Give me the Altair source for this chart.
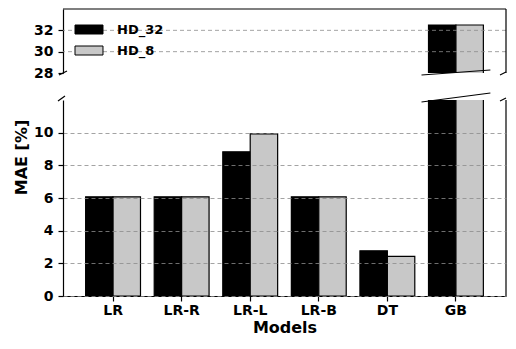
import altair as alt
import pandas as pd

models = ["LR", "LR-R", "LR-L", "LR-B", "DT", "GB"]
hd32 = [6.07, 6.07, 8.83, 6.07, 2.77, 32.5]
hd8 = [6.07, 6.07, 9.92, 6.07, 2.42, 32.5]
series = ["HD_32", "HD_8"]
colors = ["black", "#c8c8c8"]
top_ticks = [28, 30, 32]
bottom_ticks = [0, 2, 4, 6, 8, 10]
top_grid = [30, 32]

rows = []
for m, a, b in zip(models, hd32, hd8):
    rows.append({"model": m, "series": "HD_32", "mae": a})
    rows.append({"model": m, "series": "HD_8", "mae": b})
df = pd.DataFrame(rows)

W = 443
H_TOP = 64
H_BOT = 196
FONT = "DejaVu Sans"
GRID = dict(strokeDash=[4, 3], color="#8c8c8c", strokeWidth=0.8)
P_IN, P_OUT = 0.2, 0.33

xscale = alt.Scale(domain=models, paddingInner=P_IN, paddingOuter=P_OUT)
color_scale = alt.Scale(domain=series, range=colors)
one = pd.DataFrame({"a": [0]})

# break-mark extent over the last group (decoration only)
step = W / (len(models) - P_IN + 2 * P_OUT)
gb0 = step * (P_OUT + len(models) - 1) - 7
gb1 = gb0 + step * (1 - P_IN) + 14


def seg(x1, y1, x2, y2, w=1.2):
    return alt.Chart(one).mark_rule(color="black", strokeWidth=w).encode(
        x=alt.value(x1), y=alt.value(y1), x2=alt.value(x2), y2=alt.value(y2)
    )


# ---------- top panel ----------
ytop = alt.Scale(domain=[28, 34])
top_axis = alt.Axis(values=top_ticks, grid=False, title=None, labelOverlap=False,
                    labelPadding=5)
bars_top = alt.Chart(df).mark_bar(stroke="black", strokeWidth=1.2, clip=True).encode(
    x=alt.X("model:N", scale=xscale, sort=models, axis=None),
    xOffset=alt.XOffset("series:N", scale=alt.Scale(domain=series)),
    y=alt.Y("mae:Q", scale=ytop, axis=top_axis),
    color=alt.Color("series:N", scale=color_scale,
                    legend=alt.Legend(title=None, orient="none", legendX=10, legendY=14,
                                      symbolType="M-1,-1L5.22,-1L5.22,1L-1,1Z",
                                      symbolSize=81, symbolStrokeColor="black",
                                      symbolStrokeWidth=1, symbolOpacity=1,
                                      labelFont=FONT, labelFontSize=13,
                                      labelFontWeight="bold", labelColor="black",
                                      labelOffset=31, rowPadding=7, padding=0)),
)
grid_top = alt.Chart(pd.DataFrame({"mae": top_grid})).mark_rule(**GRID).encode(
    y=alt.Y("mae:Q", scale=ytop, axis=top_axis)
)
top = alt.layer(
    bars_top, grid_top,
    seg(0, 0, W, 0), seg(W, 0, W, H_TOP),
    seg(gb0, H_TOP + 2, gb1, H_TOP - 3),
    seg(W - 6, H_TOP + 2, W, H_TOP - 1),
    seg(-4, H_TOP + 2, 4, H_TOP - 2),
).properties(width=W, height=H_TOP)

# ---------- bottom panel ----------
ybot = alt.Scale(domain=[0, 12])
bars_bot = alt.Chart(df).mark_bar(stroke="black", strokeWidth=1.2, clip=True).encode(
    x=alt.X("model:N", scale=xscale, sort=models,
            axis=alt.Axis(title="Models", labelAngle=0, labelPadding=2, titlePadding=2)),
    xOffset=alt.XOffset("series:N", scale=alt.Scale(domain=series)),
    y=alt.Y("mae:Q", scale=ybot,
            axis=alt.Axis(values=bottom_ticks, grid=True, gridDash=[4, 3],
                          gridColor="#8c8c8c", gridWidth=0.8, zindex=1, labelPadding=5,
                          labelOverlap=False,
                          title="MAE [%]", titleX=-42, titleY=57, titleAngle=270,
                          titleAlign="center", titleBaseline="middle")),
    color=alt.Color("series:N", scale=color_scale, legend=None),
)
bottom = alt.layer(
    bars_bot,
    seg(W, 0, W, H_BOT),
    seg(gb0, 2, gb1, -7),
    seg(W - 6, 1, W, -2),
    seg(-5, 1, 2, -4),
).properties(width=W, height=H_BOT)

chart = alt.vconcat(top, bottom, spacing=12).resolve_legend(color="independent").properties(
    padding={"left": 5, "top": 0, "right": 0, "bottom": 0}
).configure_axis(
    labelFont=FONT, labelFontSize=14, labelFontWeight="bold", labelColor="black",
    titleFont=FONT, titleFontSize=16, titleFontWeight="bold", titleColor="black",
    domainColor="black", tickColor="black", tickSize=5, domainWidth=1.2, tickWidth=1.2,
).configure_view(stroke=None)

chart.save("out.html", embed_options={"renderer": "svg", "actions": False})
